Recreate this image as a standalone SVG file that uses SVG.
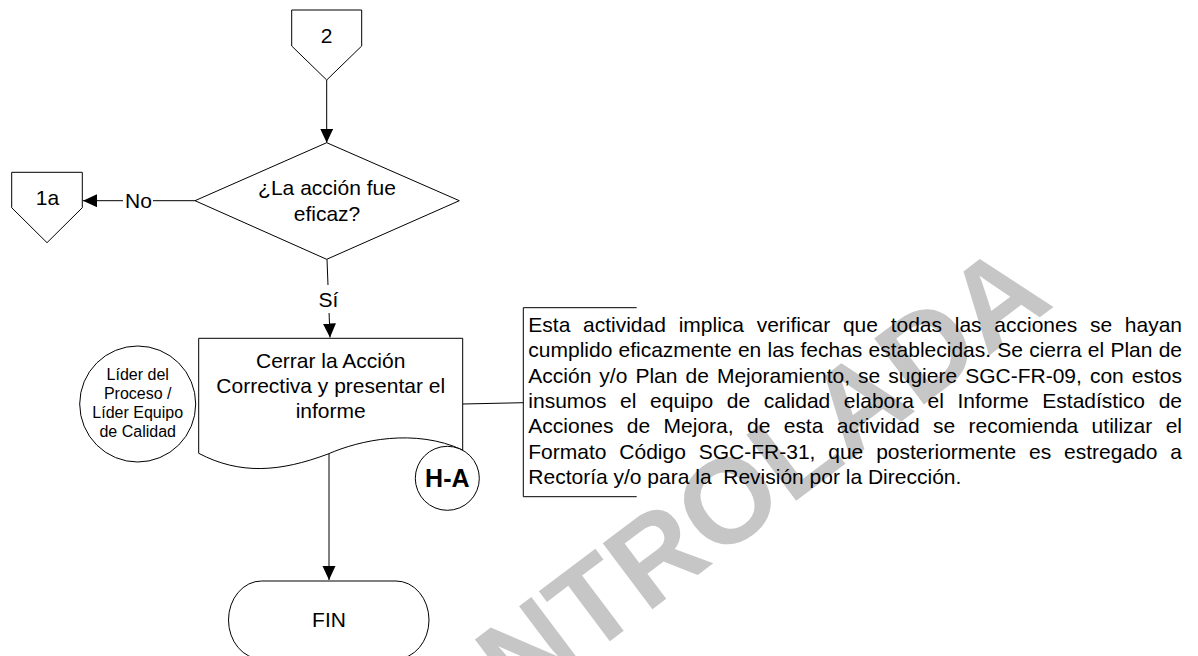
<svg xmlns="http://www.w3.org/2000/svg" width="1198" height="656" viewBox="0 0 1198 656">
<defs>
<style>
.ln{stroke:#000;stroke-width:1;fill:none}
.shp{fill:#fff;stroke:#000;stroke-width:1}
.t{font-family:"Liberation Sans",Arial,sans-serif;font-size:21px;fill:#000}
.c{text-anchor:middle}
.s16{font-size:16px}
.ann{font-family:"Liberation Sans",Arial,sans-serif;font-size:21px;fill:#000}
.wm{font-family:"Liberation Sans",Arial,sans-serif;font-weight:bold;font-size:120px;fill:#c6c6c6}
</style>
<marker id="ah" markerUnits="userSpaceOnUse" markerWidth="14" markerHeight="14" refX="14" refY="6.5" orient="auto"><path d="M0,0 L14,6.5 L0,13 Z" fill="#000"/></marker>
</defs>
<rect width="1198" height="656" fill="#fff"/>
<g id="watermark"><text class="wm" transform="translate(1056,305) rotate(-37)" text-anchor="end">NO CONTROLADA</text></g>
<g id="connectors">
<path class="ln" d="M326.7,80 V142.7" marker-end="url(#ah)"/>
<path class="ln" d="M195,200.7 H83" marker-end="url(#ah)"/>
<rect x="123" y="189" width="30" height="22" fill="#fff"/>
<text class="t c" x="138.5" y="207.5">No</text>
<path class="ln" d="M327,259.3 L330,337.5" marker-end="url(#ah)"/>
<rect x="318" y="285" width="22" height="28" fill="#fff"/>
<text class="t c" x="328.5" y="307">Sí</text>
<path class="ln" d="M329,454 V580" marker-end="url(#ah)"/>
<path class="ln" d="M462.7,404 L523.3,402.7"/>
</g>
<g id="conn2">
<path class="shp" d="M291.7,10 H361.7 V46 L326.7,80 L291.7,46 Z"/>
<text class="t c" x="326.7" y="43">2</text>
</g>
<g id="conn1a">
<path class="shp" d="M11.7,172.3 H82.3 V207.7 L47,242.7 L11.7,207.7 Z"/>
<text class="t c" x="47.5" y="205">1a</text>
</g>
<g id="decision">
<path class="shp" d="M326.7,142.7 L459.3,200.7 L326.7,259.3 L195,200.7 Z"/>
<text class="t c" x="327" y="194.5">¿La acción fue</text>
<text class="t c" x="327" y="220.5">eficaz?</text>
</g>
<g id="process">
<path class="shp" d="M198.7,338.3 H462.7 V450 C415,428 360,440 328,454 C280,472 240,475 198.7,453.3 Z"/>
<text class="t c" x="330.7" y="368.3">Cerrar la Acción</text>
<text class="t c" x="330.7" y="393.3">Correctiva y presentar el</text>
<text class="t c" x="330.7" y="418.3">informe</text>
</g>
<g id="role">
<circle class="shp" cx="137.7" cy="404" r="58"/>
<text class="t c s16" x="137.7" y="380">Líder del</text>
<text class="t c s16" x="137.7" y="399">Proceso /</text>
<text class="t c s16" x="137.7" y="418.3">Líder Equipo</text>
<text class="t c s16" x="137.7" y="437.3">de Calidad</text>
</g>
<g id="ha">
<circle class="shp" cx="447.3" cy="478.3" r="32"/>
<text class="t c" x="447.3" y="486.5" style="font-size:25px;font-weight:bold">H-A</text>
</g>
<g id="fin">
<rect class="shp" x="228.5" y="581" width="200.5" height="78" rx="33" ry="39"/>
<text class="t c" x="329" y="626.7">FIN</text>
</g>
<g id="annotation">
<path class="ln" d="M636.7,307.7 H523.3 V496.7 H636.7"/>
<text class="ann" x="528.3" y="332" word-spacing="6.88" textLength="653.7" lengthAdjust="spacing">Esta actividad implica verificar que todas las acciones se hayan</text>
<text class="ann" x="528.3" y="357.3" word-spacing="0.36" textLength="653.7" lengthAdjust="spacing">cumplido eficazmente en las fechas establecidas. Se cierra el Plan de</text>
<text class="ann" x="528.3" y="382.6" word-spacing="2.22" textLength="653.7" lengthAdjust="spacing">Acción y/o Plan de Mejoramiento, se sugiere SGC-FR-09, con estos</text>
<text class="ann" x="528.3" y="408" word-spacing="7.78" textLength="653.7" lengthAdjust="spacing">insumos el equipo de calidad elabora el Informe Estadístico de</text>
<text class="ann" x="528.3" y="433.3" word-spacing="7.53" textLength="653.7" lengthAdjust="spacing">Acciones de Mejora, de esta actividad se recomienda utilizar el</text>
<text class="ann" x="528.3" y="458.6" word-spacing="7.02" textLength="653.7" lengthAdjust="spacing">Formato Código SGC-FR-31, que posteriormente es estregado a</text>
<text class="ann" x="528.3" y="484" xml:space="preserve">Rectoría y/o para la  Revisión por la Dirección.</text>
</g>
</svg>
